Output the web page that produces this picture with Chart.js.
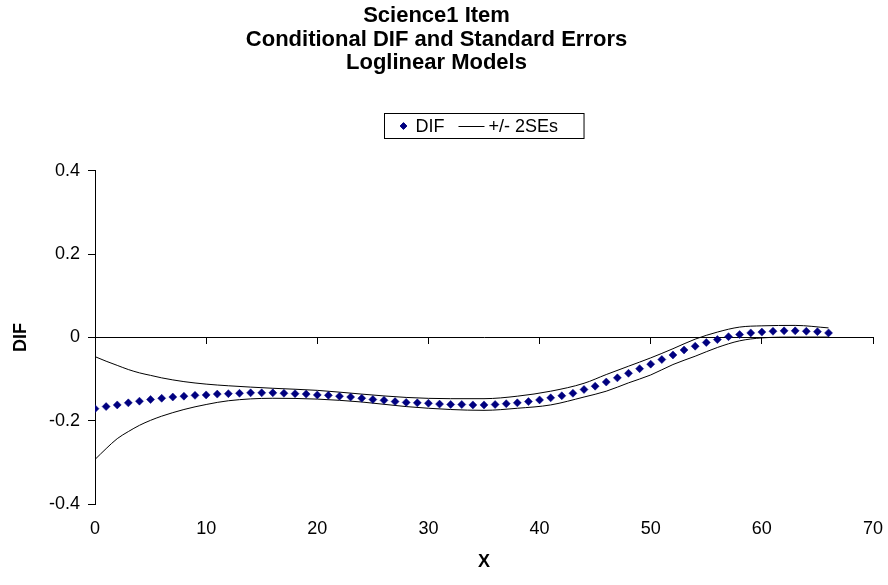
<!DOCTYPE html>
<html>
<head>
<meta charset="utf-8">
<script src="https://cdn.jsdelivr.net/npm/chart.js@4.4.1/dist/chart.umd.min.js"></script>
<style>
  html, body { margin: 0; padding: 0; background: #ffffff; }
  #wrap { width: 888px; height: 585px; position: relative; }
</style>
</head>
<body>
<div id="wrap"><canvas id="chart" width="888" height="585"></canvas></div>
<script>
// Chart text
const titleLines = ['Science1 Item', 'Conditional DIF and Standard Errors', 'Loglinear Models'];
const xAxisTitle = 'X';
const yAxisTitle = 'DIF';
const difLabel = 'DIF';
const bandLabel = '+/- 2SEs';

// Score points (X) and conditional DIF estimates
const scoreX = [0, 1, 2, 3, 4, 5, 6, 7, 8, 9, 10, 11, 12, 13, 14, 15, 16, 17, 18, 19,
  20, 21, 22, 23, 24, 25, 26, 27, 28, 29, 30, 31, 32, 33, 34, 35, 36, 37, 38, 39,
  40, 41, 42, 43, 44, 45, 46, 47, 48, 49, 50, 51, 52, 53, 54, 55, 56, 57, 58, 59,
  60, 61, 62, 63, 64, 65, 66];
const difValues = [-0.171, -0.166, -0.162, -0.157, -0.153, -0.149, -0.146, -0.143, -0.141, -0.139,
  -0.138, -0.136, -0.135, -0.134, -0.133, -0.133, -0.133, -0.134, -0.135, -0.136,
  -0.138, -0.139, -0.141, -0.143, -0.146, -0.149, -0.151, -0.154, -0.156, -0.157,
  -0.158, -0.160, -0.161, -0.161, -0.162, -0.162, -0.161, -0.159, -0.157, -0.154,
  -0.150, -0.145, -0.140, -0.134, -0.125, -0.117, -0.107, -0.097, -0.086, -0.075,
  -0.064, -0.053, -0.042, -0.030, -0.021, -0.012, -0.005, 0.002, 0.007, 0.011,
  0.013, 0.015, 0.016, 0.016, 0.015, 0.014, 0.011];

// +/- 2 standard error band (upper and lower bounds)
const bandX = [0, 1, 2, 3, 4, 5, 6, 8, 10, 12, 16, 20, 24, 28, 32, 35, 38, 41, 44, 46,
  48, 50, 52, 54, 56, 58, 60, 63, 66];
const upperBand = [-0.046, -0.057, -0.067, -0.077, -0.085, -0.091, -0.097, -0.106, -0.112, -0.116,
  -0.122, -0.127, -0.136, -0.144, -0.147, -0.147, -0.141, -0.129, -0.110, -0.089,
  -0.069, -0.049, -0.027, -0.004, 0.013, 0.025, 0.028, 0.029, 0.023];
const lowerBand = [-0.293, -0.267, -0.243, -0.226, -0.211, -0.199, -0.189, -0.173, -0.161, -0.152,
  -0.146, -0.148, -0.155, -0.166, -0.173, -0.175, -0.170, -0.162, -0.143, -0.129,
  -0.109, -0.090, -0.065, -0.045, -0.024, -0.008, -0.001, 0.001, 0.001];

// Tick labels
const xTickLabels = ['0', '10', '20', '30', '40', '50', '60', '70'];
const yTickLabels = ['-0.4', '-0.2', '0', '0.2', '0.4'];

const FONT = "'Liberation Sans', Arial, Helvetica, sans-serif";
const MARKER_COLOR = '#000080';

const toPoints = (xs, ys) => xs.map((x, i) => ({ x: x, y: ys[i] }));

// Let the plot area run to the layout edge instead of reserving label overhang
const noSidePadding = (scale) => { scale.paddingLeft = 0; scale.paddingRight = 0; };

// Boxed legend centred over the plot area
const boxedLegend = {
  id: 'boxedLegend',
  afterDraw(chart) {
    const ctx = chart.ctx;
    const area = chart.chartArea;
    const size = 18;
    ctx.save();
    ctx.font = size + 'px ' + FONT;
    const w1 = ctx.measureText(difLabel).width;
    const w2 = ctx.measureText(bandLabel).width;
    const padL = 15, markerW = 8, gap1 = 8, gap2 = 14, lineW = 26, gap3 = 4, padR = 26;
    const total = padL + markerW + gap1 + w1 + gap2 + lineW + gap3 + w2 + padR;
    const left = Math.round((area.left + area.right) / 2 - total / 2) + 0.5;
    const top = 113.5, height = 25;
    const cy = top + height / 2;
    ctx.fillStyle = '#ffffff';
    ctx.fillRect(left, top, total, height);
    ctx.strokeStyle = '#000000';
    ctx.lineWidth = 1;
    ctx.strokeRect(left, top, total, height);
    let x = left + padL + markerW / 2;
    const ds = chart.data.datasets[0];
    ctx.fillStyle = MARKER_COLOR;
    ctx.strokeStyle = MARKER_COLOR;
    Chart.helpers.drawPoint(ctx, { pointStyle: 'rectRot', radius: 3.4, borderWidth: ds.borderWidth, rotation: 0 }, x, cy);
    x += markerW / 2 + gap1;
    ctx.fillStyle = '#000000';
    ctx.textBaseline = 'middle';
    ctx.textAlign = 'left';
    ctx.fillText(difLabel, x, cy + 1);
    x += w1 + gap2;
    ctx.beginPath();
    ctx.strokeStyle = '#000000';
    ctx.lineWidth = 1;
    ctx.moveTo(x, Math.round(cy) + 0.5);
    ctx.lineTo(x + lineW, Math.round(cy) + 0.5);
    ctx.stroke();
    x += lineW + gap3;
    ctx.fillText(bandLabel, x, cy + 1);
    ctx.restore();
  }
};

new Chart(document.getElementById('chart'), {
  type: 'scatter',
  data: {
    datasets: [
      {
        label: difLabel,
        data: toPoints(scoreX, difValues),
        pointStyle: 'rectRot',
        pointRadius: 4,
        pointHoverRadius: 4,
        backgroundColor: MARKER_COLOR,
        borderColor: MARKER_COLOR,
        borderWidth: 0.5,
        showLine: false,
        order: 0
      },
      {
        label: bandLabel,
        data: toPoints(bandX, upperBand),
        showLine: true,
        borderColor: '#000000',
        borderWidth: 1,
        pointRadius: 0,
        pointHoverRadius: 0,
        cubicInterpolationMode: 'monotone',
        fill: false,
        order: 1
      },
      {
        label: bandLabel,
        data: toPoints(bandX, lowerBand),
        showLine: true,
        borderColor: '#000000',
        borderWidth: 1,
        pointRadius: 0,
        pointHoverRadius: 0,
        cubicInterpolationMode: 'monotone',
        fill: false,
        order: 1
      }
    ]
  },
  options: {
    responsive: false,
    animation: false,
    devicePixelRatio: 1,
    layout: { padding: { top: 0, left: 0, right: 15, bottom: 0 } },
    plugins: {
      legend: { display: false },
      tooltip: { enabled: false },
      title: {
        display: true,
        text: titleLines,
        color: '#000000',
        font: { family: FONT, size: 22, weight: 'bold', lineHeight: 1.08 },
        padding: { top: 4, bottom: 95.7 }
      }
    },
    scales: {
      x: {
        type: 'linear',
        position: 'bottom',
        min: 0,
        max: 70,
        grid: { display: false, drawTicks: false },
        border: { display: false },
        ticks: {
          stepSize: 10,
          color: '#000000',
          font: { family: FONT, size: 18 },
          padding: 14,
          maxRotation: 0,
          callback: (v, i) => xTickLabels[i]
        },
        title: {
          display: true,
          text: xAxisTitle,
          color: '#000000',
          font: { family: FONT, size: 18, weight: 'bold' },
          padding: { top: 0, bottom: 12 }
        },
        afterFit: (scale) => { scale.height = 81; noSidePadding(scale); }
      },
      xZero: {
        type: 'linear',
        axis: 'x',
        position: { y: 0 },
        min: 0,
        max: 70,
        grid: { drawOnChartArea: false, drawTicks: true, tickLength: 6, color: '#000000', lineWidth: 1 },
        border: { display: true, color: '#000000', width: 1 },
        ticks: { stepSize: 10, display: false },
        afterFit: noSidePadding
      },
      y: {
        type: 'linear',
        position: 'left',
        min: -0.4,
        max: 0.4,
        grid: { drawOnChartArea: false, drawTicks: true, tickLength: 7, color: '#000000', lineWidth: 1 },
        border: { display: true, color: '#000000', width: 1 },
        ticks: {
          stepSize: 0.2,
          color: '#000000',
          font: { family: FONT, size: 18 },
          padding: 8,
          callback: (v, i) => yTickLabels[i]
        },
        title: {
          display: true,
          text: yAxisTitle,
          color: '#000000',
          font: { family: FONT, size: 18, weight: 'bold' },
          padding: { top: 10, bottom: 0 }
        },
        afterFit: (scale) => { scale.width = 95; }
      }
    }
  },
  plugins: [boxedLegend]
});
</script>
</body>
</html>
